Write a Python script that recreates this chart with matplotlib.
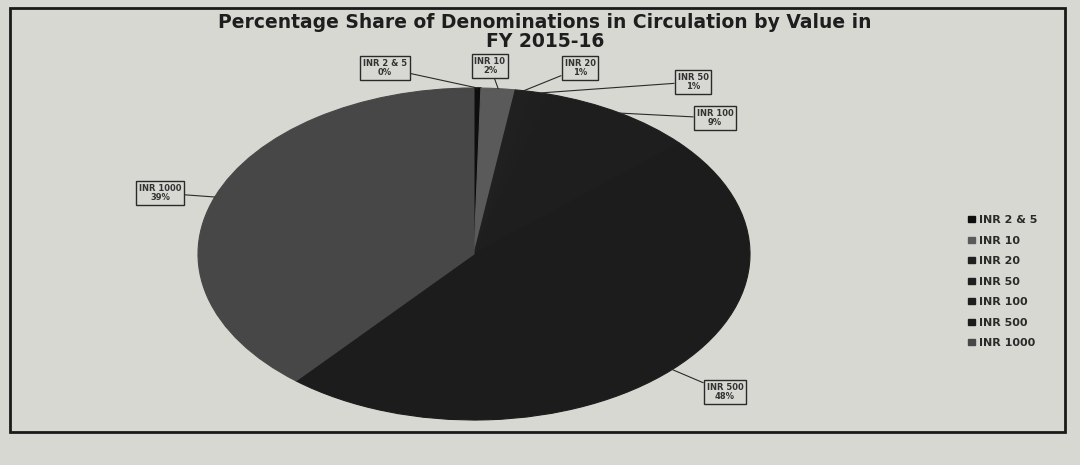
import numpy as np
import matplotlib.pyplot as plt
import matplotlib.patches as mpatches

labels = ["INR 2 & 5", "INR 10", "INR 20", "INR 50", "INR 100", "INR 500", "INR 1000"]
shares = [0.4, 2, 1, 1, 9, 48, 39]
pct_text = ["0%", "2%", "1%", "1%", "9%", "48%", "39%"]
colors = ["#0e0e0e", "#5a5a5a", "#202020", "#1f1f1f", "#1e1e1e", "#1c1c1c", "#474747"]

# label box centres in figure pixels (from top-left)
box_pos = [(385, 68), (490, 66), (580, 68), (693, 82), (715, 118), (725, 392), (160, 193)]

W, H = 1080, 465
fig = plt.figure(figsize=(W / 100, H / 100), dpi=100)
fig.patch.set_facecolor("#d8d8d3")

# outer chart frame
fig.patches.append(mpatches.Rectangle((10 / W, 1 - 432 / H), 1055 / W, 424 / H,
                                      transform=fig.transFigure, fill=False,
                                      ec="#1a1a1a", lw=2))

ax = fig.add_axes([198 / W, 1 - 420 / H, 552 / W, 332 / H])
wedges, _ = ax.pie(shares, colors=colors, startangle=90, counterclock=False,
                   wedgeprops=dict(lw=0.8))
# hide seams between the dark slices, as in the print
for w in wedges:
    w.set_edgecolor(w.get_facecolor())
wedges[0].set_edgecolor("#0a0a0a")
wedges[0].set_linewidth(1.2)
ax.set_aspect("auto")
ax.set_xlim(-1, 1)
ax.set_ylim(-1, 1)

for w, lab, pct, (bx, by) in zip(wedges, labels, pct_text, box_pos):
    ang = np.deg2rad((w.theta1 + w.theta2) / 2)
    ax.annotate(f"{lab}\n{pct}", xy=(np.cos(ang), np.sin(ang)),
                xytext=(bx / W, 1 - by / H), textcoords="figure fraction",
                ha="center", va="center", fontsize=6, fontweight="bold",
                color="#333333", linespacing=1.1,
                bbox=dict(boxstyle="square,pad=0.35", fc="none", ec="#2a2a2a", lw=1),
                arrowprops=dict(arrowstyle="-", color="#2a2a2a", lw=0.8,
                                shrinkA=0, shrinkB=0))

fig.text(545 / W, 1 - 32 / H,
         "Percentage Share of Denominations in Circulation by Value in\nFY 2015-16",
         ha="center", va="center", fontsize=13.5, fontweight="heavy",
         color="#1e1e1e", linespacing=0.95)

handles = [mpatches.Patch(color=c) for c in colors]
fig.legend(handles, labels, loc="upper left", bbox_to_anchor=(958 / W, 1 - 205 / H),
           frameon=False, handlelength=0.6, handleheight=0.45,
           handletextpad=0.4, labelspacing=0.95, labelcolor="#2a2a2a",
           prop=dict(weight="bold", size=8))

fig.savefig("out.png", dpi=100, facecolor=fig.get_facecolor())
